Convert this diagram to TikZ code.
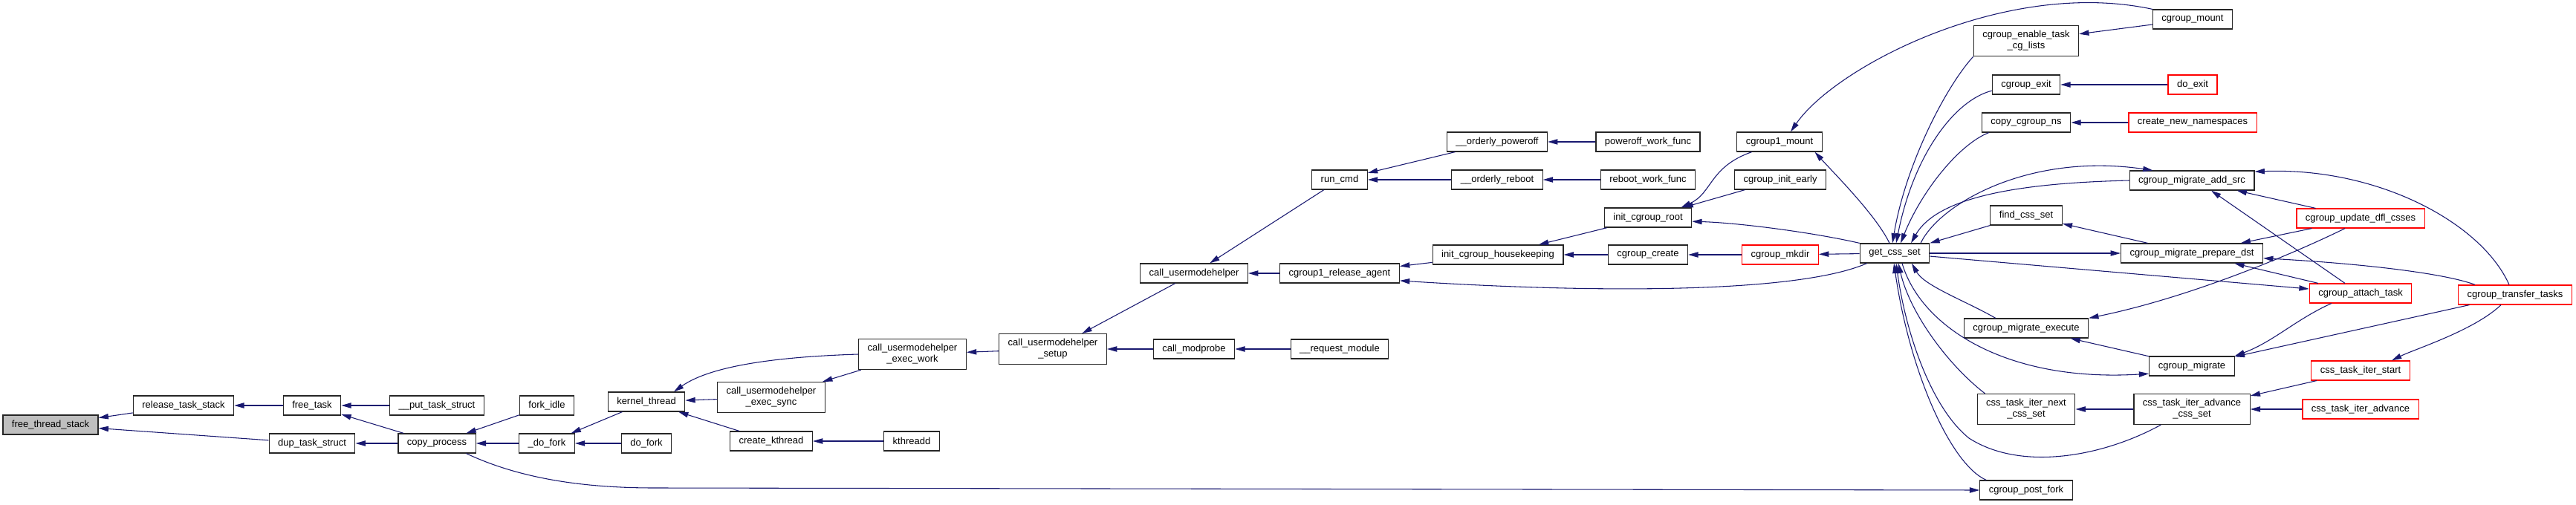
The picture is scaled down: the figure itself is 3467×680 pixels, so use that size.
\documentclass[tikz,border=0pt]{standalone}
\usepackage{fontspec}
\setmainfont{Liberation Sans}
\usetikzlibrary{arrows.meta,calc}
\definecolor{edgeblue}{HTML}{191970}
\definecolor{selfgray}{HTML}{BFBFBF}

\begin{document}
\begin{tikzpicture}[x=0.75pt,y=-0.75pt,
        fn/.style={draw=black!85,line width=0.9pt,fill=white,inner xsep=9pt,inner ysep=3pt,
            minimum height=19.5pt,align=center,font=\fontsize{9.75}{11.25}\selectfont},
        fntwo/.style={fn,minimum height=30.75pt},
        trunc/.style={draw=red},
        self/.style={fill=selfgray},
        call/.style={draw=edgeblue,line width=0.8pt,-{Triangle[length=10pt,width=5.5pt]}}]
            \useasboundingbox (0,0) rectangle (3467,680);

            \node[fn,self] (fts) at (68,572) {free\_thread\_stack};
            \node[fn] (rts) at (247,546) {release\_task\_stack};
            \node[fn] (ft) at (420,546) {free\_task};
            \node[fn] (pts) at (588,546) {\_\_put\_task\_struct};
            \node[fn] (dts) at (420,597) {dup\_task\_struct};
            \node[fn] (cp) at (588,597) {copy\_process};
            \node[fn] (fi) at (736,546) {fork\_idle};
            \node[fn] (df) at (736,597) {\_do\_fork};
            \node[fn] (dof) at (870,597) {do\_fork};
            \node[fn] (kt) at (870,541) {kernel\_thread};
            \node[fntwo] (ues) at (1038,535) {call\_usermodehelper\\\_exec\_sync};
            \node[fn] (ck) at (1038,594) {create\_kthread};
            \node[fn] (kd) at (1227,594) {kthreadd};
            \node[fntwo] (uew) at (1228,477) {call\_usermodehelper\\\_exec\_work};
            \node[fntwo] (us) at (1417,470) {call\_usermodehelper\\\_setup};
            \node[fn] (cm) at (1607,470) {call\_modprobe};
            \node[fn] (rm) at (1803,470) {\_\_request\_module};
            \node[fn] (uh) at (1607,368) {call\_usermodehelper};
            \node[fn] (ra) at (1803,368) {cgroup1\_release\_agent};
            \node[fn] (rc) at (1803,242) {run\_cmd};
            \node[fn] (opw) at (2015,191) {\_\_orderly\_poweroff};
            \node[fn] (orb) at (2015,242) {\_\_orderly\_reboot};
            \node[fn] (pwf) at (2218,191) {poweroff\_work\_func};
            \node[fn] (rwf) at (2218,242) {reboot\_work\_func};
            \node[fn] (hk) at (2016,343) {init\_cgroup\_housekeeping};
            \node[fn] (cr) at (2218,343) {cgroup\_create};
            \node[fn,trunc] (mk) at (2396,343) {cgroup\_mkdir};
            \node[fn] (root) at (2218,293) {init\_cgroup\_root};
            \node[fn] (m1) at (2395,191) {cgroup1\_mount};
            \node[fn] (ie) at (2396,242) {cgroup\_init\_early};
            \node[fn] (gcs) at (2550,341) {get\_css\_set};
            \node[fn] (mnt) at (2951,26) {cgroup\_mount};
            \node[fntwo] (etl) at (2727,55) {cgroup\_enable\_task\\\_cg\_lists};
            \node[fn] (ce) at (2727,114) {cgroup\_exit};
            \node[fn,trunc] (dx) at (2951,114) {do\_exit};
            \node[fn] (cns) at (2727,165) {copy\_cgroup\_ns};
            \node[fn,trunc] (cnn) at (2951,165) {create\_new\_namespaces};
            \node[fn] (mas) at (2950,243) {cgroup\_migrate\_add\_src};
            \node[fn] (fcs) at (2727,290) {find\_css\_set};
            \node[fn,trunc] (udc) at (3177,294) {cgroup\_update\_dfl\_csses};
            \node[fn] (mpd) at (2950,341) {cgroup\_migrate\_prepare\_dst};
            \node[fn,trunc] (att) at (3177,395) {cgroup\_attach\_task};
            \node[fn,trunc] (ttk) at (3385,397) {cgroup\_transfer\_tasks};
            \node[fn] (mex) at (2727,442) {cgroup\_migrate\_execute};
            \node[fn] (mg) at (2950,493) {cgroup\_migrate};
            \node[fn,trunc] (its) at (3177,499) {css\_task\_iter\_start};
            \node[fntwo] (nxt) at (2727,551) {css\_task\_iter\_next\\\_css\_set};
            \node[fntwo] (adv) at (2950,551) {css\_task\_iter\_advance\\\_css\_set};
            \node[fn,trunc] (ita) at (3177,551) {css\_task\_iter\_advance};
            \node[fn] (pf) at (2727,660) {cgroup\_post\_fork};

            \draw[call] (rts) -- (fts);
            \draw[call] (dts) -- (fts);
            \draw[call] (ft) -- (rts);
            \draw[call] (pts) -- (ft);
            \draw[call] (cp) -- (ft);
            \draw[call] (cp) -- (dts);
            \draw[call] (fi) -- (cp);
            \draw[call] (df) -- (cp);
            \draw[call] (cp.-19) .. controls (690,640) and (770,657) .. (880,657) -- (pf.west);
            \draw[call] (kt) -- (df);
            \draw[call] (dof) -- (df);
            \draw[call] (uew.west) .. controls (1060,480) and (960,490) .. ($(kt.north)+(37,0)$);
            \draw[call] (ues) -- (kt);
            \draw[call] (ck) -- (kt);
            \draw[call] (uew) -- (ues);
            \draw[call] (kd) -- (ck);
            \draw[call] (us) -- (uew);
            \draw[call] (uh) -- (us);
            \draw[call] (cm) -- (us);
            \draw[call] (rm) -- (cm);
            \draw[call] (rc) -- (uh);
            \draw[call] (ra) -- (uh);
            \draw[call] (opw) -- (rc);
            \draw[call] (orb) -- (rc);
            \draw[call] (pwf) -- (opw);
            \draw[call] (rwf) -- (orb);
            \draw[call] (hk) -- (ra);
            \draw[call] (gcs.-160) .. controls (2420,395) and (2150,395) .. (ra.-7);
            \draw[call] (root) -- (hk);
            \draw[call] (cr) -- (hk);
            \draw[call] (m1.-160) .. controls (2300,225) and (2305,260) .. (root.17);
            \draw[call] (ie) -- (root);
            \draw[call] (gcs.north west) .. controls (2440,313) and (2340,300) .. (root.-5);
            \draw[call] (mk) -- (cr);
            \draw[call] (gcs) -- (mk);
            \draw[call] ($(gcs.north)+(-7,0)$) .. controls (2525,290) and (2470,235) .. (m1.-16);
            \draw[call] (mnt.north west) .. controls (2700,-30) and (2470,90) .. ($(m1.north)+(15,0)$);
            \draw[call] (mnt) -- (etl);
            \draw[call] (etl.south west) .. controls (2620,115) and (2565,220) .. ($(gcs.north)+(-3,0)$);
            \draw[call] (ce.-170) .. controls (2630,135) and (2575,210) .. ($(gcs.north)+(2,0)$);
            \draw[call] (dx) -- (ce);
            \draw[call] ($(cns.south west)+(10,0)$) .. controls (2635,195) and (2585,260) .. ($(gcs.north)+(8,0)$);
            \draw[call] (cnn) -- (cns);
            \draw[call] ($(gcs.north)+(35,0)$) .. controls (2610,275) and (2730,205) .. ($(mas.north west)+(32,0)$);
            \draw[call] (mas.west) .. controls (2740,246) and (2610,260) .. ($(gcs.north)+(22,0)$);
            \draw[call] (udc) -- (mas);
            \draw[call] ($(att.north)+(-21,0)$) -- ($(mas.south)+(26,0)$);
            \draw[call] ($(ttk.north)+(-8,0)$) .. controls (3340,300) and (3200,225) .. (mas.8);
            \draw[call] (fcs.south west) -- (gcs.north east);
            \draw[call] (mpd) -- (fcs);
            \draw[call] (gcs) -- (mpd);
            \draw[call] (udc) -- (mpd);
            \draw[call] (att) -- (mpd);
            \draw[call] ($(ttk.north west)+(23,0)$) .. controls (3290,368) and (3180,355) .. (mpd.-4);
            \draw[call] (gcs) -- (att);
            \draw[call] ($(udc.south)+(-21,0)$) .. controls (3090,340) and (2950,400) .. (mex.north east);
            \draw[call] ($(mex.north west)+(43,0)$) .. controls (2645,405) and (2590,385) .. ($(gcs.south)+(23,0)$);
            \draw[call] (mg) -- (mex);
            \draw[call] ($(gcs.south)+(10,0)$) .. controls (2585,440) and (2700,515) .. (mg.-170);
            \draw[call] ($(att.south west)+(30,0)$) .. controls (3090,430) and (3060,460) .. (mg.north east);
            \draw[call] (ttk) -- (mg);
            \draw[call] ($(ttk.south)+(-19,0)$) .. controls (3330,445) and (3250,470) .. ($(its.north)+(42,0)$);
            \draw[call] (its) -- (adv);
            \draw[call] (ita) -- (adv);
            \draw[call] (adv) -- (nxt);
            \draw[call] ($(nxt.north west)+(11,0)$) .. controls (2620,490) and (2570,420) .. ($(gcs.south)+(5,0)$);
            \draw[call] ($(adv.south west)+(37,0)$) .. controls (2830,615) and (2720,635) .. (2650,590)
                .. controls (2600,550) and (2565,450) .. ($(gcs.south)+(2,0)$);
            \draw[call] ($(pf.north west)+(9,0)$) .. controls (2625,625) and (2570,500) .. ($(gcs.south)+(-1,0)$);
        \end{tikzpicture}
\end{document}
